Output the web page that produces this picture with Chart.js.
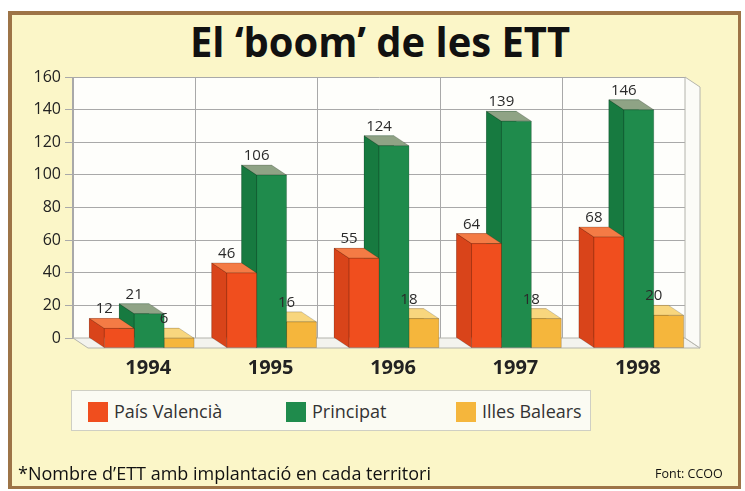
<!DOCTYPE html>
<html>
<head>
<meta charset="utf-8">
<script src="https://cdn.jsdelivr.net/npm/chart.js@4.4.1/dist/chart.umd.min.js"></script>
<style>
  html, body { margin: 0; padding: 0; background: #fff; }
  body { width: 745px; height: 491px; position: relative; overflow: hidden; font-family: 'Open Sans', 'Noto Sans', sans-serif; }
  #frame { position: absolute; left: 8px; top: 11px; width: 726px; height: 471px; background: #fbf6c8; border: 4px solid #9d7447; border-right-width: 3px; border-bottom-width: 3px; }
  #title { position: absolute; left: 380px; top: 20px; font-size: 42px; line-height: 42px; font-weight: 700; color: #111; white-space: nowrap; }
  #chart { position: absolute; left: 0; top: 0; }
  #legend { position: absolute; left: 71px; top: 390px; width: 518px; height: 39px; background: #fbfbf3; border: 1px solid #cfcfc4; }
  .item { position: absolute; top: 9px; font-size: 18px; line-height: 22px; color: #333; }
  .sw { display: inline-block; width: 20px; height: 20px; vertical-align: -4px; margin-right: 6px; }
  #note { position: absolute; left: 18px; top: 461px; font-size: 18px; line-height: 24px; color: #111; }
  #source { position: absolute; left: 655px; top: 466px; font-size: 12.5px; line-height: 16px; color: #111; }
</style>
</head>
<body>
<div id="frame"></div>
<span id="title">El ‘boom’ de les ETT</span>
<canvas id="chart" width="745" height="491"></canvas>
<div id="legend"></div>
<div id="note">*Nombre d’ETT amb implantació en cada territori</div>
<div id="source">Font: CCOO</div>
<script>
var years = ['1994', '1995', '1996', '1997', '1998'];
var seriesNames = ['País Valencià', 'Principat', 'Illes Balears'];
var paisValencia = [12, 46, 55, 64, 68];
var principat = [21, 106, 124, 139, 146];
var illesBalears = [6, 16, 18, 18, 20];
var yTicks = [0, 20, 40, 60, 80, 100, 120, 140, 160];

var faces = [
    { front: '#f04e1e', top: '#f47b45', side: '#d9441a' },
    { front: '#1f8b4c', top: '#8fa385', side: '#177a40' },
    { front: '#f5b63c', top: '#f8d67e', side: '#e6a22d' }
];
var depth = { dx: 15, dy: 10 };
var fontFam = "'Open Sans', 'Noto Sans', sans-serif";

// title squeezed to the condensed width of the original
var title = document.getElementById('title');
var tw = title.getBoundingClientRect().width;
title.style.transform = 'translateX(-50%) scaleX(' + (380 / tw) + ')';

// legend
var legendX = [16, 214, 384];
var legend = document.getElementById('legend');
seriesNames.forEach(function (name, i) {
    var it = document.createElement('div');
    it.className = 'item';
    it.style.left = legendX[i] + 'px';
    it.innerHTML = '<span class="sw" style="background:' + faces[i].front + '"></span>' + name;
    legend.appendChild(it);
});

function poly(ctx, pts, fill, stroke) {
    ctx.beginPath();
    ctx.moveTo(pts[0][0], pts[0][1]);
    for (var i = 1; i < pts.length; i++) ctx.lineTo(pts[i][0], pts[i][1]);
    ctx.closePath();
    ctx.fillStyle = fill;
    ctx.fill();
    if (stroke) {
        ctx.strokeStyle = stroke;
        ctx.lineWidth = 1;
        ctx.stroke();
    }
}

var box3d = {
    id: 'box3d',
    beforeDraw: function (chart) {
        var a = chart.chartArea, ctx = chart.ctx;
        ctx.save();
        ctx.fillStyle = '#fefefb';
        ctx.fillRect(a.left, a.top, a.right - a.left, a.bottom - a.top);
        ctx.restore();
    },
    beforeDatasetsDraw: function (chart) {
        var a = chart.chartArea, ctx = chart.ctx, dx = depth.dx, dy = depth.dy;
        ctx.save();
        // floor
        poly(ctx, [[a.left, a.bottom], [a.right, a.bottom], [a.right + dx, a.bottom + dy], [a.left + dx, a.bottom + dy]], '#f3f3ee', '#b4b4ac');
        // right wall
        poly(ctx, [[a.right, a.top], [a.right + dx, a.top + dy], [a.right + dx, a.bottom + dy], [a.right, a.bottom]], '#fbfbf7', '#b4b4ac');
        ctx.restore();
    },
    afterDatasetsDraw: function (chart) {
        var ctx = chart.ctx, dx = depth.dx, dy = depth.dy;
        var bars = [];
        chart.data.datasets.forEach(function (ds, d) {
            chart.getDatasetMeta(d).data.forEach(function (el, i) {
                bars.push({ el: el, d: d, v: ds.data[i] });
            });
        });
        // paint right to left so the left bars cover the side faces of their neighbours
        bars.sort(function (p, q) { return q.el.x - p.el.x; });
        ctx.save();
        var edge = 'rgba(0,0,0,0.18)';
        bars.forEach(function (b) {
            var el = b.el, f = faces[b.d];
            var x0 = el.x - el.width / 2, x1 = el.x + el.width / 2, yt = el.y, yb = el.base;
            poly(ctx, [[x0, yt], [x0 + dx, yt + dy], [x0 + dx, yb + dy], [x0, yb]], f.side, edge);
            poly(ctx, [[x0, yt], [x1, yt], [x1 + dx, yt + dy], [x0 + dx, yt + dy]], f.top, edge);
            poly(ctx, [[x0 + dx, yt + dy], [x1 + dx, yt + dy], [x1 + dx, yb + dy], [x0 + dx, yb + dy]], f.front, edge);
        });
        ctx.fillStyle = '#2a2a2a';
        ctx.font = '15px ' + fontFam;
        ctx.textAlign = 'center';
        ctx.textBaseline = 'alphabetic';
        bars.forEach(function (b) {
            ctx.fillText(String(b.v), b.el.x, b.el.y - 5);
        });
        ctx.restore();
    }
};

var values = [paisValencia, principat, illesBalears];
var chart = new Chart(document.getElementById('chart').getContext('2d'), {
    type: 'bar',
    data: {
        labels: years,
        datasets: values.map(function (v, i) {
            return {
                label: seriesNames[i],
                data: v,
                backgroundColor: faces[i].side,
                borderWidth: 0,
                categoryPercentage: 0.733,
                barPercentage: 1
            };
        })
    },
    options: {
        responsive: false,
        animation: false,
        layout: { padding: { left: 10, top: 77, right: 60, bottom: 0 } },
        plugins: { legend: { display: false }, tooltip: { enabled: false } },
        scales: {
            x: {
                grid: { color: '#a9a9a9', drawTicks: false, offset: true },
                border: { display: false },
                ticks: { color: '#222', font: { family: fontFam, size: 20, weight: 'bold' }, padding: 18, labelOffset: 14 },
                afterFit: function (s) { s.height = 491 - 338; }
            },
            y: {
                min: 0,
                max: 160,
                afterBuildTicks: function (s) { s.ticks = yTicks.map(function (v) { return { value: v }; }); },
                grid: { color: '#a9a9a9', tickLength: 8 },
                border: { color: '#a9a9a9' },
                ticks: { color: '#222', font: { family: fontFam, size: 16 }, padding: 4 },
                afterFit: function (s) { s.width = 63; }
            }
        }
    },
    plugins: [box3d]
});
</script>
</body>
</html>
